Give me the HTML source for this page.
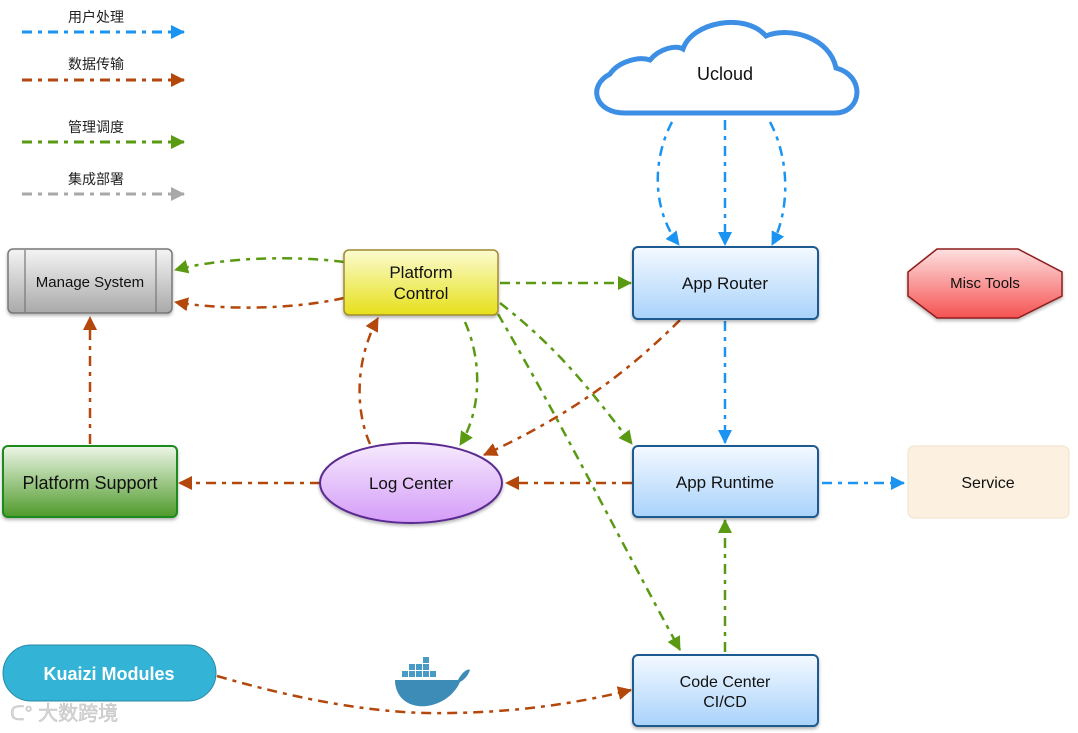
<!DOCTYPE html>
<html><head><meta charset="utf-8"><style>
html,body{margin:0;padding:0;background:#fff;}
svg{display:block;}
text{font-family:"Liberation Sans","Noto Sans CJK SC",sans-serif;}
</style></head><body>
<svg width="1078" height="733" viewBox="0 0 1078 733" xmlns="http://www.w3.org/2000/svg">
<defs>
<linearGradient id="gGray" x1="0" y1="0" x2="0" y2="1"><stop offset="0" stop-color="#f4f4f4"/><stop offset="1" stop-color="#a9a9a9"/></linearGradient>
<linearGradient id="gYel" x1="0" y1="0" x2="0" y2="1"><stop offset="0" stop-color="#fbfbd0"/><stop offset="1" stop-color="#e6e01a"/></linearGradient>
<linearGradient id="gBlue" x1="0" y1="0" x2="0" y2="1"><stop offset="0" stop-color="#f4f9ff"/><stop offset="1" stop-color="#a8d2fb"/></linearGradient>
<linearGradient id="gRed" x1="0" y1="0" x2="0" y2="1"><stop offset="0" stop-color="#fde0e0"/><stop offset="1" stop-color="#f65252"/></linearGradient>
<linearGradient id="gGreen" x1="0" y1="0" x2="0" y2="1"><stop offset="0" stop-color="#eef6e8"/><stop offset="1" stop-color="#4f9a2a"/></linearGradient>
<linearGradient id="gPur" x1="0" y1="0" x2="0" y2="1"><stop offset="0" stop-color="#f6eafd"/><stop offset="1" stop-color="#d49cf8"/></linearGradient>
<marker id="aB" markerWidth="10" markerHeight="10" refX="9" refY="5" orient="auto" markerUnits="userSpaceOnUse" viewBox="0 0 10 10"><path d="M0,0 L10,5 L0,10 Z" fill="#1b93f0"/></marker>
<marker id="aR" markerWidth="14" markerHeight="14" refX="13" refY="7" orient="auto" markerUnits="userSpaceOnUse" viewBox="0 0 14 14"><path d="M0,0 L14,7 L0,14 Z" fill="#b4470c"/></marker>
<marker id="aG" markerWidth="14" markerHeight="14" refX="13" refY="7" orient="auto" markerUnits="userSpaceOnUse" viewBox="0 0 14 14"><path d="M0,0 L14,7 L0,14 Z" fill="#5a9a12"/></marker>
<marker id="aY" markerWidth="14" markerHeight="14" refX="13" refY="7" orient="auto" markerUnits="userSpaceOnUse" viewBox="0 0 14 14"><path d="M0,0 L14,7 L0,14 Z" fill="#a8a8a8"/></marker>
<marker id="aB2" markerWidth="14" markerHeight="14" refX="13" refY="7" orient="auto" markerUnits="userSpaceOnUse" viewBox="0 0 14 14"><path d="M0,0 L14,7 L0,14 Z" fill="#1b93f0"/></marker>
<filter id="sh" x="-10%" y="-10%" width="130%" height="140%"><feDropShadow dx="0" dy="2" stdDeviation="1.5" flood-color="#000" flood-opacity="0.3"/></filter>
</defs>

<!-- legend -->
<g font-size="14" fill="#222">
<text x="68" y="22">用户处理</text>
<text x="68" y="69">数据传输</text>
<text x="68" y="132">管理调度</text>
<text x="68" y="184">集成部署</text>
</g>
<g stroke-width="3" fill="none" stroke-dasharray="10,6,4,6">
<line x1="22" y1="32" x2="184" y2="32" stroke="#1b93f0" marker-end="url(#aB2)"/>
<line x1="22" y1="80" x2="184" y2="80" stroke="#b4470c" marker-end="url(#aR)"/>
<line x1="22" y1="142" x2="184" y2="142" stroke="#5a9a12" marker-end="url(#aG)"/>
<line x1="22" y1="194" x2="184" y2="194" stroke="#a8a8a8" marker-end="url(#aY)"/>
</g>

<!-- cloud -->
<path d="M625 113 C595 113 587 86 610 74 C618 62 638 56 650 60 C660 48 676 45 683 49 C692 22 745 12 766 36 C790 26 830 38 836 68 C866 76 862 113 835 113 Z" fill="#fff" stroke="#3d8fe6" stroke-width="5"/>
<text x="725" y="80" font-size="18" text-anchor="middle" fill="#111">Ucloud</text>

<!-- connectors -->
<g fill="none" stroke-width="2.5" stroke-dasharray="10,6,4,6">
<!-- blue -->
<path d="M672 122 C652 160 652 210 679 245" stroke="#1b93f0" marker-end="url(#aB2)"/>
<path d="M725 120 L725 245" stroke="#1b93f0" marker-end="url(#aB2)"/>
<path d="M770 122 C790 160 790 210 772 245" stroke="#1b93f0" marker-end="url(#aB2)"/>
<path d="M725 321 L725 443" stroke="#1b93f0" marker-end="url(#aB2)"/>
<path d="M822 483 L904 483" stroke="#1b93f0" marker-end="url(#aB2)"/>
<!-- green -->
<path d="M344 262 C290 255 220 258 175 270" stroke="#5a9a12" marker-end="url(#aG)"/>
<path d="M500 283 L631 283" stroke="#5a9a12" marker-end="url(#aG)"/>
<path d="M465 322 C482 360 482 410 460 445" stroke="#5a9a12" marker-end="url(#aG)"/>
<path d="M500 303 C560 350 590 390 632 444" stroke="#5a9a12" marker-end="url(#aG)"/>
<path d="M498 314 C560 420 620 540 680 650" stroke="#5a9a12" marker-end="url(#aG)"/>
<path d="M725 652 L725 520" stroke="#5a9a12" marker-end="url(#aG)"/>
<!-- brown -->
<path d="M344 298 C290 310 220 310 175 302" stroke="#b4470c" marker-end="url(#aR)"/>
<path d="M90 444 L90 317" stroke="#b4470c" marker-end="url(#aR)"/>
<path d="M320 483 L179 483" stroke="#b4470c" marker-end="url(#aR)"/>
<path d="M632 483 L506 483" stroke="#b4470c" marker-end="url(#aR)"/>
<path d="M680 320 C620 380 560 420 484 455" stroke="#b4470c" marker-end="url(#aR)"/>
<path d="M370 444 C355 410 355 360 378 318" stroke="#b4470c" marker-end="url(#aR)"/>
<path d="M217 676 C300 700 380 715 450 713 C530 712 590 700 631 690" stroke="#b4470c" marker-end="url(#aR)"/>
</g>

<!-- nodes -->
<g filter="url(#sh)">
<rect x="8" y="249" width="164" height="64" rx="5" fill="url(#gGray)" stroke="#777" stroke-width="1.5"/>
<rect x="344" y="250" width="154" height="65" rx="5" fill="url(#gYel)" stroke="#a08a30" stroke-width="1.5"/>
<rect x="633" y="247" width="185" height="72" rx="5" fill="url(#gBlue)" stroke="#1d5a90" stroke-width="2"/>
<polygon points="937,249 1018,249 1062,272 1062,296 1018,318 937,318 908,296 908,272" fill="url(#gRed)" stroke="#8e1e1e" stroke-width="1.5"/>
<rect x="3" y="446" width="174" height="71" rx="5" fill="url(#gGreen)" stroke="#1e8a1e" stroke-width="2"/>
<ellipse cx="411" cy="483" rx="91" ry="40" fill="url(#gPur)" stroke="#5a2a90" stroke-width="2"/>
<rect x="633" y="446" width="185" height="71" rx="5" fill="url(#gBlue)" stroke="#1d5a90" stroke-width="2"/>
<rect x="633" y="655" width="185" height="71" rx="5" fill="url(#gBlue)" stroke="#1d5a90" stroke-width="2"/>
</g>
<rect x="908" y="446" width="161" height="72" rx="6" fill="#fcf0e0" stroke="#f0e2cc"/>
<rect x="3" y="645" width="213" height="56" rx="28" fill="#33b3d6" stroke="#2a8aa8"/>
<line x1="25" y1="250" x2="25" y2="312" stroke="#777" stroke-width="1.2"/>
<line x1="156" y1="250" x2="156" y2="312" stroke="#777" stroke-width="1.2"/>

<g fill="#111" text-anchor="middle">
<text x="90" y="287" font-size="15">Manage System</text>
<text x="421" y="278" font-size="17">Platform</text>
<text x="421" y="299" font-size="17">Control</text>
<text x="725" y="289" font-size="17">App Router</text>
<text x="985" y="288" font-size="15">Misc Tools</text>
<text x="90" y="489" font-size="18">Platform Support</text>
<text x="411" y="489" font-size="17">Log Center</text>
<text x="725" y="488" font-size="17">App Runtime</text>
<text x="988" y="488" font-size="16">Service</text>
<text x="725" y="687" font-size="16">Code Center</text>
<text x="725" y="707" font-size="16">CI/CD</text>
<text x="109" y="680" font-size="18" font-weight="bold" fill="#fff">Kuaizi Modules</text>
</g>

<!-- docker whale -->
<g fill="#3d8cb8">
<path d="M395 680 L458 680 C462 672 468 668 470 670 C468 676 464 680 460 682 C452 700 432 708 418 706 C402 704 395 692 395 680 Z"/>
<g fill="#4a9ac6">
<rect x="402" y="671" width="6" height="6"/><rect x="409" y="671" width="6" height="6"/><rect x="416" y="671" width="6" height="6"/><rect x="423" y="671" width="6" height="6"/><rect x="430" y="671" width="6" height="6"/>
<rect x="409" y="664" width="6" height="6"/><rect x="416" y="664" width="6" height="6"/><rect x="423" y="664" width="6" height="6"/>
<rect x="423" y="657" width="6" height="6"/>
</g>
</g>
<text x="10" y="720" font-size="20" fill="#d8d8d8" stroke="#c0c0c0" stroke-width="0.5">ᑕ° 大数跨境</text>
</svg>
</body></html>
